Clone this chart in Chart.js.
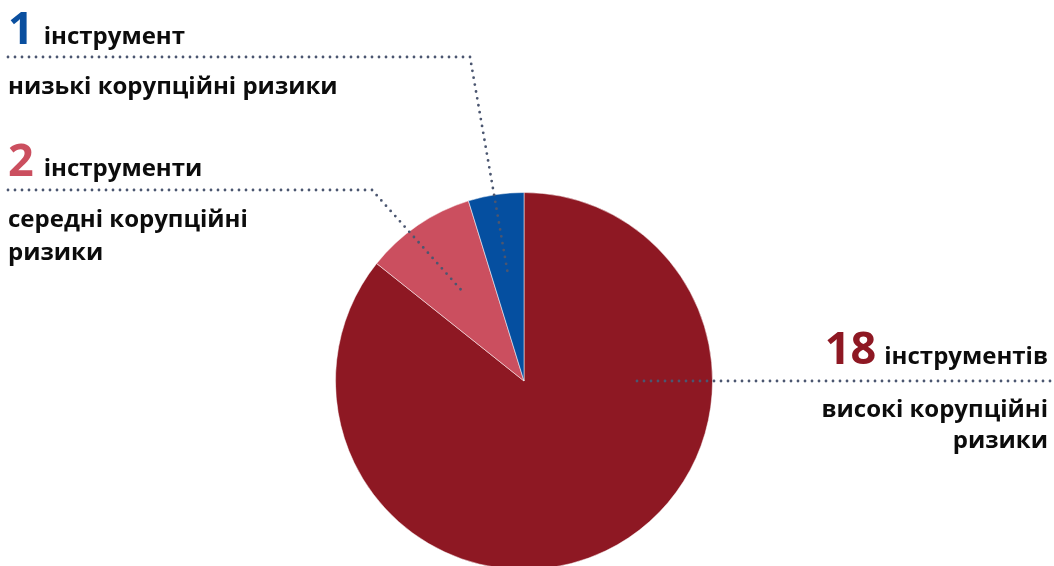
<!DOCTYPE html>
<html>
<head>
<meta charset="utf-8">
<script src="https://cdn.jsdelivr.net/npm/chart.js@4.4.1/dist/chart.umd.min.js"></script>
<style>
  html, body { margin: 0; padding: 0; background: #fff; overflow: hidden; width: 1054px; height: 566px; }
  #wrap { position: absolute; left: 0; top: 0; width: 1054px; height: 600px; }
  .lbl { position: absolute; font-family: "Open Sans", sans-serif; font-weight: 700; color: #0c0c0c; font-size: 24px; white-space: nowrap; }
  .num { font-size: 45px; margin-right: 10px; }
</style>
</head>
<body>
<div id="wrap">
  <canvas id="pie" width="1054" height="600"></canvas>
  <div class="lbl" style="left:8px; top:2px; line-height:50px;"><span class="num" style="color:#0a4f9f">1</span>інструмент</div>
  <div class="lbl" style="left:8px; top:68px; line-height:33px;">низькі корупційні ризики</div>
  <div class="lbl" style="left:8px; top:134px; line-height:50px;"><span class="num" style="color:#cb4f5f">2</span>інструменти</div>
  <div class="lbl" style="left:8px; top:201px; line-height:33px;">середні корупційні<br>ризики</div>
  <div class="lbl" style="right:6px; top:322px; line-height:50px;"><span class="num" style="color:#8e1823; margin-right:8px">18</span>інструментів</div>
  <div class="lbl" style="right:6px; top:392px; line-height:31px; text-align:right;">високі корупційні<br>ризики</div>
</div>
<script>
// кількість інструментів за рівнем корупційних ризиків
const categories = ['високі корупційні ризики', 'середні корупційні ризики', 'низькі корупційні ризики'];
const counts = [18, 2, 1];
const colors = ['#8e1823', '#cb4f5f', '#054fa0'];

// пунктирні виноски від сегментів до підписів
const leaderLines = {
    id: 'leaderLines',
    afterDatasetsDraw(chart) {
        const ctx = chart.ctx;
        const arcs = chart.getDatasetMeta(0).data;

        function inside(arc, angle, k) {
            return {
                x: arc.x + Math.cos(angle) * arc.outerRadius * k,
                y: arc.y + Math.sin(angle) * arc.outerRadius * k
            };
        }
        const mid = a => (a.startAngle + a.endAngle) / 2;

        const red = inside(arcs[0], 0, 0.59);
        const pink = inside(arcs[1], mid(arcs[1]), 0.56);
        const blue = inside(arcs[2], mid(arcs[2]), 0.58);

        ctx.save();
        ctx.strokeStyle = '#4b5670';
        ctx.lineWidth = 2.8;
        ctx.lineCap = 'round';
        ctx.setLineDash([0, 7]);

        ctx.beginPath();
        ctx.moveTo(8, 57);
        ctx.lineTo(470, 57);
        ctx.lineTo(blue.x, blue.y);
        ctx.stroke();

        ctx.beginPath();
        ctx.moveTo(8, 190);
        ctx.lineTo(372, 190);
        ctx.lineTo(pink.x, pink.y);
        ctx.stroke();

        ctx.beginPath();
        ctx.moveTo(1050, red.y);
        ctx.lineTo(red.x, red.y);
        ctx.stroke();
        ctx.restore();
    }
};

new Chart(document.getElementById('pie'), {
    type: 'pie',
    data: {
        labels: categories,
        datasets: [{
            data: counts,
            backgroundColor: colors,
            borderColor: 'rgba(255,255,255,0.5)',
            borderWidth: 1
        }]
    },
    options: {
        responsive: false,
        animation: false,
        layout: { padding: { left: 335, right: 341, top: 192, bottom: 30 } },
        plugins: {
            legend: { display: false },
            tooltip: { enabled: false }
        }
    },
    plugins: [leaderLines]
});
</script>
</body>
</html>
